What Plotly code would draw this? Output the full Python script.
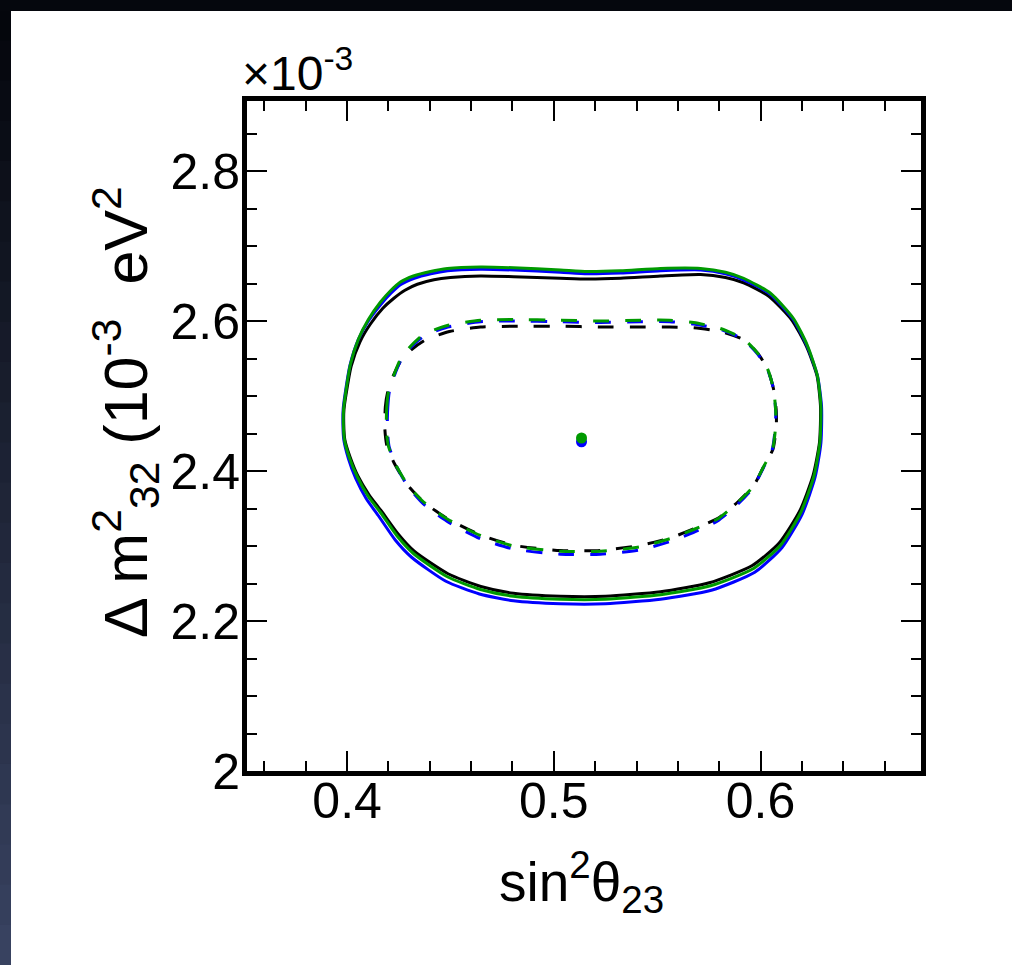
import plotly.graph_objects as go

# ---------------- data (sin^2 theta23, Delta m^2_32 in 1e-3 eV^2) ----------------
outer_black_x = [0.3984, 0.3985, 0.3995, 0.4020, 0.4062, 0.4113, 0.4173, 0.4225, 0.4280, 0.4340, 0.4420, 0.4500,
                 0.4645, 0.4805, 0.5032, 0.5163, 0.5323, 0.5516, 0.5710, 0.5830, 0.5918, 0.6040, 0.6152, 0.6222,
                 0.6273, 0.6290, 0.6285, 0.6254, 0.6190, 0.6090, 0.5960, 0.5752, 0.5516, 0.5250, 0.5032, 0.4805,
                 0.4647, 0.4488, 0.4325, 0.4247, 0.4165, 0.4107, 0.4053, 0.4014, 0.3989, 0.3984]
outer_black_y = [2.462, 2.482, 2.502, 2.540, 2.572, 2.596, 2.617, 2.630, 2.641, 2.649, 2.655, 2.658,
                 2.660, 2.659, 2.657, 2.656, 2.657, 2.660, 2.662, 2.658, 2.651, 2.633, 2.601, 2.566,
                 2.527, 2.486, 2.438, 2.394, 2.347, 2.304, 2.274, 2.251, 2.239, 2.233, 2.233, 2.237,
                 2.246, 2.263, 2.293, 2.316, 2.347, 2.368, 2.393, 2.419, 2.442, 2.462]

outer_blue_x = [0.3980, 0.3981, 0.3990, 0.4014, 0.4054, 0.4103, 0.4163, 0.4212, 0.4262, 0.4325, 0.4405, 0.4487,
                0.4645, 0.4805, 0.5032, 0.5163, 0.5323, 0.5516, 0.5710, 0.5830, 0.5918, 0.6045, 0.6158, 0.6226,
                0.6276, 0.6295, 0.6292, 0.6264, 0.6202, 0.6104, 0.5972, 0.5762, 0.5516, 0.5250, 0.5032, 0.4805,
                0.4640, 0.4478, 0.4312, 0.4233, 0.4150, 0.4093, 0.4042, 0.4006, 0.3984, 0.3980]
outer_blue_y = [2.462, 2.482, 2.502, 2.541, 2.575, 2.600, 2.622, 2.637, 2.649, 2.657, 2.663, 2.667,
                2.669, 2.668, 2.665, 2.663, 2.664, 2.667, 2.668, 2.663, 2.655, 2.636, 2.602, 2.566,
                2.526, 2.486, 2.438, 2.392, 2.343, 2.298, 2.265, 2.241, 2.229, 2.223, 2.223, 2.227,
                2.236, 2.253, 2.285, 2.308, 2.341, 2.363, 2.390, 2.417, 2.442, 2.462]

outer_green_x = [0.3982, 0.3983, 0.3992, 0.4016, 0.4055, 0.4103, 0.4161, 0.4209, 0.4258, 0.4321, 0.4403, 0.4485,
                 0.4645, 0.4805, 0.5032, 0.5163, 0.5323, 0.5516, 0.5710, 0.5830, 0.5918, 0.6048, 0.6160, 0.6227,
                 0.6275, 0.6292, 0.6287, 0.6258, 0.6195, 0.6097, 0.5966, 0.5758, 0.5516, 0.5250, 0.5032, 0.4805,
                 0.4645, 0.4485, 0.4321, 0.4243, 0.4161, 0.4103, 0.4050, 0.4011, 0.3987, 0.3982]
outer_green_y = [2.462, 2.482, 2.502, 2.542, 2.576, 2.602, 2.625, 2.640, 2.652, 2.660, 2.666, 2.670,
                 2.672, 2.671, 2.668, 2.666, 2.667, 2.670, 2.670, 2.665, 2.657, 2.637, 2.603, 2.567,
                 2.527, 2.486, 2.438, 2.393, 2.345, 2.301, 2.270, 2.247, 2.235, 2.229, 2.229, 2.233,
                 2.242, 2.259, 2.290, 2.313, 2.345, 2.366, 2.392, 2.418, 2.442, 2.462]

inner_black_x = [0.4183, 0.4185, 0.4196, 0.4222, 0.4260, 0.4312, 0.4380, 0.4495, 0.4645, 0.4805, 0.5032, 0.5225,
                 0.5420, 0.5560, 0.5676, 0.5806, 0.5918, 0.5986, 0.6034, 0.6063, 0.6076, 0.6076, 0.6060, 0.6017,
                 0.5968, 0.5891, 0.5794, 0.5678, 0.5566, 0.5420, 0.5225, 0.5032, 0.4805, 0.4643, 0.4482, 0.4365,
                 0.4288, 0.4229, 0.4193, 0.4183, 0.4183]
inner_black_y = [2.470, 2.485, 2.505, 2.526, 2.547, 2.562, 2.575, 2.586, 2.592, 2.593, 2.593, 2.592,
                 2.592, 2.592, 2.591, 2.586, 2.575, 2.557, 2.536, 2.509, 2.480, 2.460, 2.429, 2.407,
                 2.381, 2.359, 2.337, 2.323, 2.311, 2.301, 2.294, 2.294, 2.301, 2.315, 2.337, 2.360,
                 2.383, 2.410, 2.433, 2.455, 2.470]

inner_blue_x = [0.4195, 0.4197, 0.4204, 0.4227, 0.4261, 0.4309, 0.4372, 0.4487, 0.4645, 0.4805, 0.5032, 0.5225,
                0.5420, 0.5560, 0.5676, 0.5806, 0.5918, 0.5986, 0.6034, 0.6063, 0.6073, 0.6072, 0.6056, 0.6013,
                0.5964, 0.5887, 0.5790, 0.5674, 0.5562, 0.5420, 0.5225, 0.5032, 0.4805, 0.4643, 0.4483, 0.4369,
                0.4293, 0.4236, 0.4203, 0.4195, 0.4195]
inner_blue_y = [2.470, 2.485, 2.505, 2.526, 2.548, 2.565, 2.580, 2.592, 2.599, 2.600, 2.599, 2.598,
                2.599, 2.599, 2.596, 2.589, 2.575, 2.556, 2.535, 2.509, 2.480, 2.460, 2.428, 2.404,
                2.378, 2.355, 2.333, 2.318, 2.306, 2.295, 2.289, 2.289, 2.296, 2.310, 2.333, 2.356,
                2.380, 2.408, 2.433, 2.455, 2.470]

inner_green_x = [0.4190, 0.4192, 0.4200, 0.4224, 0.4258, 0.4306, 0.4369, 0.4485, 0.4645, 0.4805, 0.5032, 0.5225,
                 0.5420, 0.5560, 0.5676, 0.5806, 0.5918, 0.5986, 0.6034, 0.6063, 0.6073, 0.6073, 0.6058, 0.6015,
                 0.5966, 0.5889, 0.5792, 0.5676, 0.5564, 0.5420, 0.5225, 0.5032, 0.4805, 0.4645, 0.4485, 0.4369,
                 0.4292, 0.4234, 0.4200, 0.4190, 0.4190]
inner_green_y = [2.470, 2.485, 2.505, 2.526, 2.549, 2.566, 2.582, 2.594, 2.601, 2.602, 2.601, 2.600,
                 2.601, 2.601, 2.598, 2.590, 2.576, 2.557, 2.536, 2.509, 2.480, 2.460, 2.429, 2.406,
                 2.380, 2.358, 2.336, 2.322, 2.310, 2.299, 2.293, 2.293, 2.300, 2.314, 2.336, 2.359,
                 2.382, 2.409, 2.433, 2.455, 2.470]

best_fit_x = {"blue": 0.5134, "green": 0.5134}
best_fit_y = {"blue": 2.439, "green": 2.444}

x_ticks = [0.4, 0.5, 0.6]
x_ticktext = ["0.4", "0.5", "0.6"]
y_ticks = [2.0, 2.2, 2.4, 2.6, 2.8]
y_ticktext = ["2", "2.2", "2.4", "2.6", "2.8"]

# ---------------- figure ----------------
W, H = 1012, 965
ML, MR, MT, MB = 247, 91, 101, 194
PW, PH = W - ML - MR, H - MT - MB
# axis ranges chosen so the (outside-drawn) 5px frame sits on the reference frame
X_RANGE = [0.3516, 0.6776]
Y_RANGE = [2.0, 2.0 + PH / 750.0]
FONT = "Liberation Sans, Arial, Helvetica, sans-serif"
BLACK, BLUE, GREEN = "#000000", "#0000ff", "#009a00"


def pxx(px):
    return (px - ML) / PW


def pxy(py):
    return (H - MB - py) / PH


fig = go.Figure()

contours = [
    (outer_black_x, outer_black_y, BLACK, "solid"),
    (outer_blue_x, outer_blue_y, BLUE, "solid"),
    (outer_green_x, outer_green_y, GREEN, "solid"),
    (inner_black_x, inner_black_y, BLACK, "16px,16px"),
    (inner_blue_x, inner_blue_y, BLUE, "16px,16px"),
    (inner_green_x, inner_green_y, GREEN, "16px,16px"),
]
for xs, ys, col, dash in contours:
    fig.add_trace(go.Scatter(x=xs, y=ys, mode="lines",
                             line=dict(color=col, width=3, dash=dash, shape="spline", smoothing=0.6),
                             hoverinfo="skip", showlegend=False))

for key, col in (("blue", BLUE), ("green", GREEN)):
    fig.add_trace(go.Scatter(x=[best_fit_x[key]], y=[best_fit_y[key]], mode="markers",
                             marker=dict(color=col, size=11, line=dict(width=0)),
                             hoverinfo="skip", showlegend=False))

shapes = []
# dark slide background strips (left strip as a vertical gradient)
n = 24
c0 = (4, 6, 12)
c1 = (56, 66, 96)
for i in range(n):
    t = i / (n - 1)
    col = "rgb(%d,%d,%d)" % tuple(int(a + (b - a) * t) for a, b in zip(c0, c1))
    y_top = i * H / n
    y_bot = (i + 1) * H / n + 1
    shapes.append(dict(type="rect", xref="paper", yref="paper", layer="below",
                       x0=pxx(-5), x1=pxx(11), y0=pxy(y_bot), y1=pxy(y_top),
                       fillcolor=col, line=dict(width=0)))
shapes.append(dict(type="rect", xref="paper", yref="paper", layer="below",
                   x0=pxx(-5), x1=pxx(W + 5), y0=pxy(11), y1=pxy(-5),
                   fillcolor="#05070d", line=dict(width=0)))
# white slide panel
shapes.append(dict(type="rect", xref="paper", yref="paper", layer="below",
                   x0=pxx(11), x1=pxx(W + 5), y0=pxy(H + 5), y1=pxy(11),
                   fillcolor="#ffffff", line=dict(width=0)))

annotations = [
    dict(text="×10<sup>-3</sup>", x=pxx(240), y=pxy(70), xref="paper", yref="paper",
         xanchor="left", yanchor="middle", showarrow=False, font=dict(family=FONT, size=48, color="black")),
    dict(text="sin<sup>2</sup>θ<sub>23</sub>", x=pxx(581), y=pxy(882), xref="paper", yref="paper",
         xanchor="center", yanchor="middle", showarrow=False, font=dict(family=FONT, size=55, color="black")),
    dict(text="Δ m<sup>2</sup><sub>32</sub> (10<sup>-3</sup>\u00a0 eV<sup>2</sup>", x=pxx(125), y=pxy(412),
         xref="paper", yref="paper", xanchor="center", yanchor="middle", textangle=-90, showarrow=False,
         font=dict(family=FONT, size=61, color="black")),
]

axis_common = dict(showline=True, linewidth=5, linecolor="black", mirror="allticks",
                   ticks="inside", tickwidth=2, tickcolor="black", ticklen=20,
                   showgrid=False, zeroline=False,
                   tickfont=dict(family=FONT, size=50, color="black"))

fig.update_layout(
    width=W, height=H,
    margin=dict(l=ML, r=MR, t=MT, b=MB, pad=0),
    paper_bgcolor="#0b0e18", plot_bgcolor="white",
    shapes=shapes, annotations=annotations,
    xaxis=dict(range=X_RANGE, tickmode="array", tickvals=x_ticks, ticktext=x_ticktext,
               ticklabelstandoff=-18,
               minor=dict(ticks="inside", tickmode="linear", tick0=0.4, dtick=0.02, ticklen=10,
                          tickwidth=2, tickcolor="black"),
               **axis_common),
    yaxis=dict(range=Y_RANGE, tickmode="array", tickvals=y_ticks, ticktext=y_ticktext,
               ticklabelstandoff=-8,
               minor=dict(ticks="inside", tickmode="linear", tick0=2.0, dtick=0.05, ticklen=10,
                          tickwidth=2, tickcolor="black"),
               **axis_common),
)

fig.write_html("out.html", config={"displayModeBar": False},
               post_script="document.body.style.margin='0px';document.body.style.overflow='hidden';")
